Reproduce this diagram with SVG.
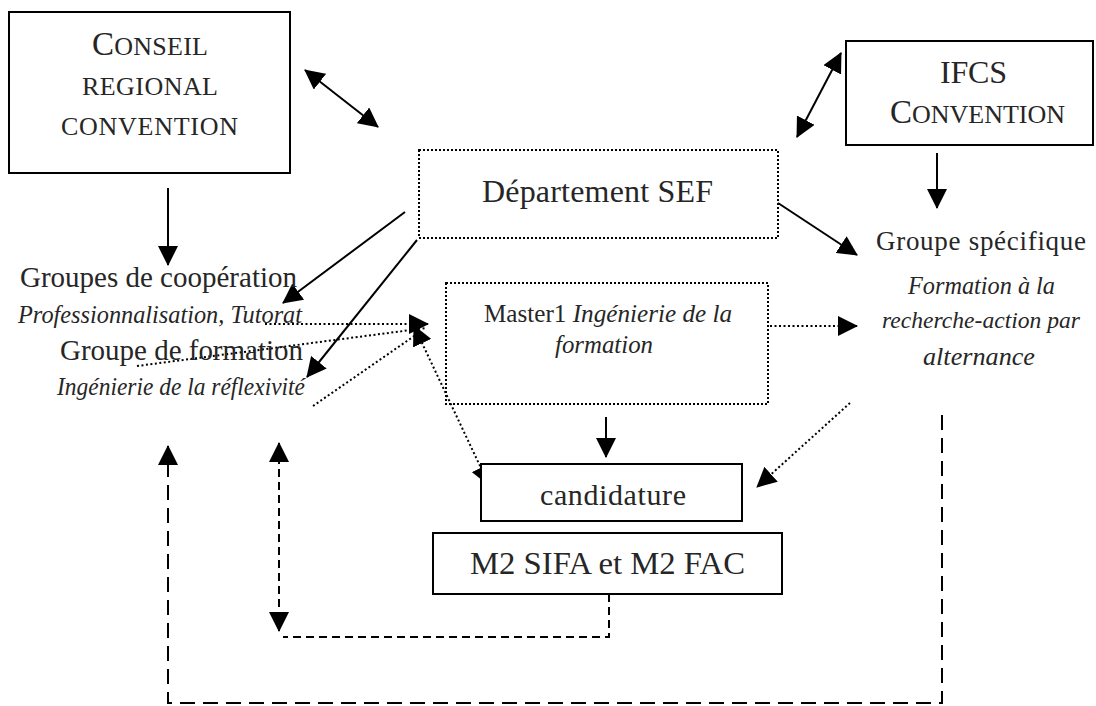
<svg xmlns="http://www.w3.org/2000/svg" width="1096" height="706" viewBox="0 0 1096 706">
<style>
text{font-family:"Liberation Serif","DejaVu Serif",serif;fill:#262626}
.it{font-style:italic}
.box{fill:#fff;stroke:#000;stroke-width:2}
.dbox{fill:none;stroke:#000;stroke-width:2;stroke-dasharray:2 2}
.solid{fill:none;stroke:#000;stroke-width:2}
.dot{fill:none;stroke:#000;stroke-width:2;stroke-dasharray:2 2.5}
.dash{fill:none;stroke:#000;stroke-width:2;stroke-dasharray:15 8}
.dash2{fill:none;stroke:#000;stroke-width:2;stroke-dasharray:8 5}
</style>
<defs>
<marker id="ah" viewBox="0 0 20 20" markerUnits="userSpaceOnUse" markerWidth="20" markerHeight="20" refX="19" refY="10" orient="auto-start-reverse">
<path d="M0,0 L20,10 L0,20 Z" fill="#000"/>
</marker>
</defs>
<g id="connectors">
<line class="solid" x1="305" y1="70" x2="378" y2="127" marker-start="url(#ah)" marker-end="url(#ah)"/>
<line class="solid" x1="841" y1="53" x2="797" y2="137" marker-start="url(#ah)" marker-end="url(#ah)"/>
<line class="solid" x1="168" y1="188" x2="168" y2="265" marker-end="url(#ah)"/>
<line class="solid" x1="937" y1="153" x2="937" y2="208" marker-end="url(#ah)"/>
<line class="solid" x1="405" y1="212" x2="283" y2="303" marker-end="url(#ah)"/>
<line class="solid" x1="417" y1="240" x2="307" y2="377" marker-end="url(#ah)"/>
<line class="solid" x1="778" y1="203" x2="857" y2="255" marker-end="url(#ah)"/>
<line class="solid" x1="606" y1="417" x2="606" y2="457" marker-end="url(#ah)"/>
<line class="dot" x1="265" y1="324" x2="428" y2="324" marker-end="url(#ah)"/>
<line class="dot" x1="137" y1="366" x2="426" y2="328"/>
<line class="dot" x1="313" y1="406" x2="420" y2="332"/>
<line class="dot" x1="414" y1="326" x2="489" y2="485" marker-start="url(#ah)" marker-end="url(#ah)"/>
<line class="dot" x1="770" y1="326" x2="857" y2="326" marker-end="url(#ah)"/>
<line class="dot" x1="850" y1="403" x2="757" y2="487" marker-end="url(#ah)"/>
<path class="dash" d="M942,415 V703 H168 V446" marker-end="url(#ah)"/>
<line class="dash2" x1="279" y1="443" x2="279" y2="631" marker-start="url(#ah)" marker-end="url(#ah)"/>
<path class="dash2" d="M609,594 V637 H283"/>
</g>
<g id="conseil">
<rect class="box" x="9" y="12" width="281" height="161"/>
<text x="92" y="55" font-size="26" textLength="116"><tspan font-size="33">C</tspan>ONSEIL</text>
<text x="82" y="95" font-size="26" textLength="136">REGIONAL</text>
<text x="61" y="135" font-size="26" textLength="177">CONVENTION</text>
</g>
<g id="ifcs">
<rect class="box" x="846" y="41" width="247" height="104"/>
<text x="940" y="83" font-size="32" textLength="67">IFCS</text>
<text x="890" y="123" font-size="26" textLength="175"><tspan font-size="33">C</tspan>ONVENTION</text>
</g>
<g id="departement">
<rect class="dbox" x="419" y="150" width="359" height="88"/>
<text x="482" y="202" font-size="32" textLength="231">Département SEF</text>
</g>
<g id="groupes-cooperation">
<text x="20" y="287" font-size="29" textLength="277">Groupes de coopération</text>
<text class="it" x="18" y="323" font-size="26" textLength="284" lengthAdjust="spacingAndGlyphs">Professionnalisation, Tutorat</text>
</g>
<g id="groupe-formation">
<text x="60" y="360" font-size="29" textLength="243">Groupe de formation</text>
<text class="it" x="57" y="395" font-size="26" textLength="248" lengthAdjust="spacingAndGlyphs">Ingénierie de la réflexivité</text>
</g>
<g id="master1">
<rect class="dbox" x="446" y="283" width="322" height="121"/>
<text x="484" y="322" font-size="26" textLength="248" lengthAdjust="spacingAndGlyphs">Master1 <tspan class="it">Ingénierie de la</tspan></text>
<text class="it" x="555" y="353" font-size="26" textLength="98" lengthAdjust="spacingAndGlyphs">formation</text>
</g>
<g id="groupe-specifique">
<text x="876" y="250" font-size="27" textLength="210">Groupe spécifique</text>
<text class="it" x="908" y="294" font-size="26" textLength="147" lengthAdjust="spacingAndGlyphs">Formation à la</text>
<text class="it" x="882" y="328" font-size="24" textLength="198" lengthAdjust="spacingAndGlyphs">recherche-action par</text>
<text class="it" x="923" y="365" font-size="26" textLength="112" lengthAdjust="spacingAndGlyphs">alternance</text>
</g>
<g id="candidature">
<rect class="box" x="481" y="464" width="261" height="57"/>
<text x="540" y="505" font-size="30" textLength="146">candidature</text>
</g>
<g id="m2">
<rect class="box" x="433" y="533" width="349" height="61"/>
<text x="470" y="574" font-size="31" textLength="275" lengthAdjust="spacingAndGlyphs">M2 SIFA et M2 FAC</text>
</g>
</svg>
